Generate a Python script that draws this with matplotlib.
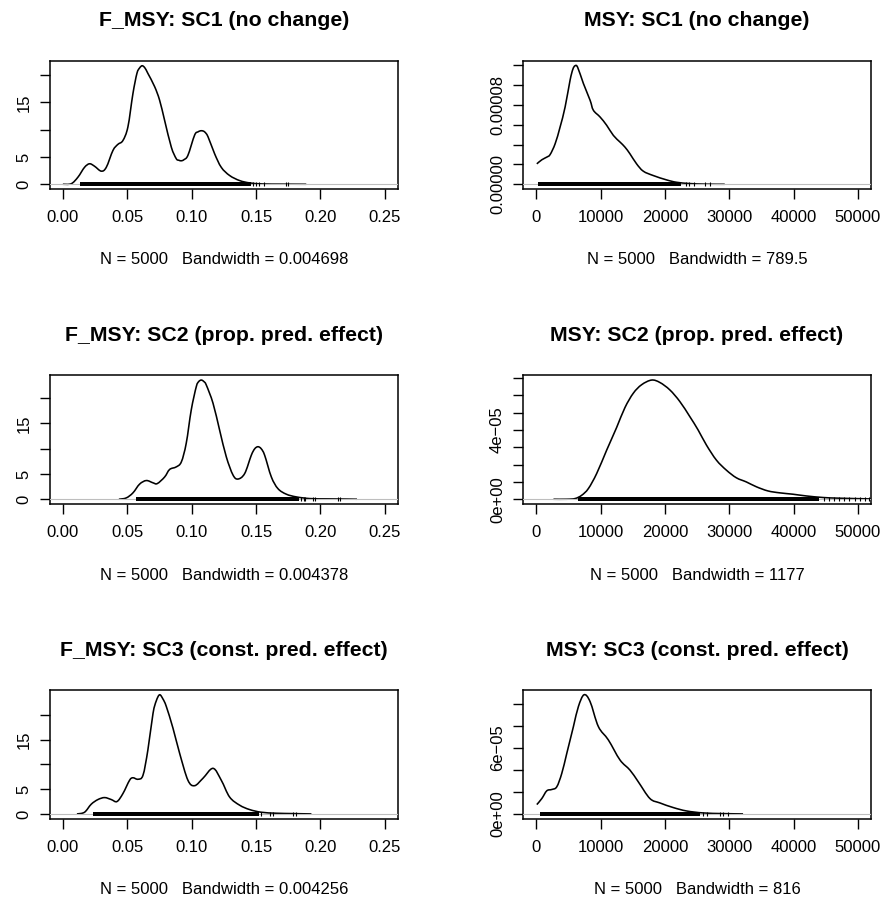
import matplotlib
matplotlib.use("Agg")
import matplotlib.pyplot as plt
from matplotlib.path import Path
from matplotlib.patches import PathPatch

plt.rcParams['font.family'] = ['Liberation Sans', 'DejaVu Sans']

# ---- kernel density estimates (x grid, density) ----
fmsy_sc1_x = [0.0, 0.0065, 0.0117, 0.0168, 0.0207, 0.0246, 0.0298, 0.0337, 0.0389, 0.0427,
              0.0466, 0.0505, 0.0544, 0.0575, 0.0596, 0.0616, 0.0637, 0.066, 0.0712, 0.0751,
              0.079, 0.0842, 0.088, 0.090, 0.092, 0.094, 0.0971, 0.1023, 0.105, 0.1075, 0.110,
              0.1127, 0.1178, 0.123, 0.1295, 0.1373, 0.145, 0.155, 0.171, 0.189]
fmsy_sc1_d = [0.0, 0.1, 1.3, 3.1, 3.75, 3.3, 2.4, 3.1, 6.2, 7.3,
              8.0, 10.5, 16.6, 20.3, 21.3, 21.7, 21.3, 20.3, 17.9, 15.4,
              11.7, 6.8, 4.7, 4.4, 4.3, 4.5, 5.3, 9.0, 9.6, 9.8, 9.6,
              8.7, 5.6, 3.1, 1.6, 0.67, 0.25, 0.06, 0.02, 0.0]

msy_sc1_x = [100, 880, 1650, 2170, 2950, 3720, 4500, 5270, 5700, 6050, 6450, 7340, 8380,
             8890, 9930, 10960, 12000, 13030, 13800, 14580, 15610, 16650, 18200, 20270,
             21820, 23900, 26470, 29310]
msy_sc1_d = [2.06e-5, 2.47e-5, 2.74e-5, 3.0e-5, 4.09e-5, 5.78e-5, 7.8e-5, 10.5e-5, 11.6e-5,
             11.96e-5, 11.8e-5, 10.17e-5, 8.48e-5, 7.47e-5, 6.79e-5, 5.95e-5, 4.93e-5,
             4.26e-5, 3.75e-5, 3.07e-5, 2.06e-5, 1.32e-5, 0.88e-5, 0.44e-5, 0.2e-5,
             0.07e-5, 0.01e-5, 0.0]

fmsy_sc2_x = [0.0435, 0.0492, 0.0544, 0.0596, 0.0648, 0.070, 0.0733, 0.079, 0.0829, 0.088,
              0.092, 0.0958, 0.0997, 0.1036, 0.1055, 0.1075, 0.1095, 0.1114, 0.1166, 0.1217,
              0.1269, 0.1321, 0.136, 0.1412, 0.1463, 0.149, 0.1515, 0.154, 0.1567, 0.1619,
              0.167, 0.1735, 0.1813, 0.1917, 0.2046, 0.215, 0.2284]
fmsy_sc2_d = [0.0, 0.26, 1.26, 3.0, 3.7, 3.25, 3.1, 4.4, 5.9, 6.4,
              7.4, 11.1, 17.7, 22.3, 23.3, 23.6, 23.3, 22.6, 19.0, 13.7,
              8.4, 4.8, 4.0, 5.1, 8.7, 10.0, 10.4, 10.0, 8.7, 4.4,
              2.1, 1.0, 0.46, 0.13, 0.07, 0.05, 0.0]

msy_sc2_x = [2690, 4760, 6050, 7080, 8120, 9410, 10960, 12510, 13800, 15100, 16390, 17940,
             19230, 20780, 22330, 23880, 25180, 26470, 28020, 29570, 31120, 32670, 34230,
             36030, 37840, 39910, 41980, 44570, 47150, 51800, 53000]
msy_sc2_d = [0.0, 0.0, 0.04e-5, 0.23e-5, 0.62e-5, 1.49e-5, 2.84e-5, 4.15e-5, 5.3e-5, 6.13e-5,
             6.62e-5, 6.89e-5, 6.75e-5, 6.32e-5, 5.65e-5, 4.78e-5, 4.0e-5, 3.13e-5, 2.26e-5,
             1.68e-5, 1.24e-5, 1.0e-5, 0.72e-5, 0.48e-5, 0.37e-5, 0.29e-5, 0.19e-5, 0.1e-5,
             0.06e-5, 0.02e-5, 0.01e-5]

fmsy_sc3_x = [0.0109, 0.0168, 0.022, 0.0272, 0.0324, 0.0376, 0.042, 0.0466, 0.0518, 0.0544,
              0.0583, 0.0622, 0.066, 0.070, 0.0725, 0.0751, 0.0777, 0.0803, 0.0855, 0.0907,
              0.0971, 0.1023, 0.1088, 0.1166, 0.123, 0.1295, 0.1373, 0.145, 0.1541, 0.1658,
              0.1787, 0.193]
fmsy_sc3_d = [0.0, 0.34, 1.96, 2.9, 3.3, 2.9, 2.5, 4.1, 6.8, 7.3,
              7.0, 7.8, 12.9, 20.3, 22.8, 24.05, 23.2, 21.7, 17.3, 12.2,
              6.8, 5.7, 7.2, 9.2, 6.8, 3.4, 1.76, 0.88, 0.34, 0.14,
              0.07, 0.0]

msy_sc3_x = [100, 880, 1650, 2430, 3200, 3980, 4760, 5790, 6570, 7440, 8380, 9670, 11220,
             13030, 14580, 15870, 17680, 19230, 21300, 23370, 25950, 29060, 32160]
msy_sc3_d = [0.85e-5, 1.4e-5, 2.1e-5, 2.22e-5, 2.46e-5, 3.68e-5, 5.5e-5, 7.93e-5, 9.76e-5,
             10.82e-5, 10.2e-5, 7.93e-5, 6.72e-5, 4.9e-5, 3.98e-5, 2.92e-5, 1.4e-5, 1.0e-5,
             0.58e-5, 0.27e-5, 0.09e-5, 0.03e-5, 0.0]

# ---- rug: dense span of the sample plus isolated upper values ----
fmsy_sc1_rug_span = (0.013, 0.146)
fmsy_sc1_rug_tail = [0.148, 0.150, 0.152, 0.156, 0.173, 0.175]
msy_sc1_rug_span = (310, 22500)
msy_sc1_rug_tail = [23300, 23800, 24600, 26200, 27000]
fmsy_sc2_rug_span = (0.0565, 0.183)
fmsy_sc2_rug_tail = [0.185, 0.187, 0.188, 0.194, 0.196, 0.2135, 0.215]
msy_sc2_rug_span = (6500, 44000)
msy_sc2_rug_tail = [44800, 45500, 46300, 47000, 47800, 48600, 49500, 50300, 51100, 51800]
fmsy_sc3_rug_span = (0.0233, 0.152)
fmsy_sc3_rug_tail = [0.154, 0.161, 0.163, 0.179, 0.181]
msy_sc3_rug_span = (570, 25500)
msy_sc3_rug_tail = [26000, 26500, 28600, 29000, 29800]

# ---- labels ----
titles = ["F_MSY: SC1 (no change)", "MSY: SC1 (no change)",
          "F_MSY: SC2 (prop. pred. effect)", "MSY: SC2 (prop. pred. effect)",
          "F_MSY: SC3 (const. pred. effect)", "MSY: SC3 (const. pred. effect)"]
sample_n = [5000, 5000, 5000, 5000, 5000, 5000]
bandwidths = ["0.004698", "789.5", "0.004378", "1177", "0.004256", "816"]

fmsy_xticks = [0.0, 0.05, 0.10, 0.15, 0.20, 0.25]
fmsy_xlabels = ["0.00", "0.05", "0.10", "0.15", "0.20", "0.25"]
msy_xticks = [0, 10000, 20000, 30000, 40000, 50000]
msy_xlabels = ["0", "10000", "20000", "30000", "40000", "50000"]

fmsy_yticks = [0, 5, 10, 15, 20]
fmsy_ylabels = ["0", "5", "", "15", ""]
msy_sc1_yticks = [0, 2e-5, 4e-5, 6e-5, 8e-5, 10e-5, 12e-5]
msy_sc1_ylabels = ["0.00000", "", "", "", "0.00008", "", ""]
msy_sc2_yticks = [0, 1e-5, 2e-5, 3e-5, 4e-5, 5e-5, 6e-5, 7e-5]
msy_sc2_ylabels = ["0e+00", "", "", "", "4e\u221205", "", "", ""]
msy_sc3_yticks = [0, 2e-5, 4e-5, 6e-5, 8e-5, 10e-5]
msy_sc3_ylabels = ["0e+00", "", "", "6e\u221205", "", ""]

panels = [
    (fmsy_sc1_x, fmsy_sc1_d, fmsy_sc1_rug_span, fmsy_sc1_rug_tail, fmsy_yticks, fmsy_ylabels),
    (msy_sc1_x, msy_sc1_d, msy_sc1_rug_span, msy_sc1_rug_tail, msy_sc1_yticks, msy_sc1_ylabels),
    (fmsy_sc2_x, fmsy_sc2_d, fmsy_sc2_rug_span, fmsy_sc2_rug_tail, fmsy_yticks, fmsy_ylabels),
    (msy_sc2_x, msy_sc2_d, msy_sc2_rug_span, msy_sc2_rug_tail, msy_sc2_yticks, msy_sc2_ylabels),
    (fmsy_sc3_x, fmsy_sc3_d, fmsy_sc3_rug_span, fmsy_sc3_rug_tail, fmsy_yticks, fmsy_ylabels),
    (msy_sc3_x, msy_sc3_d, msy_sc3_rug_span, msy_sc3_rug_tail, msy_sc3_yticks, msy_sc3_ylabels),
]


def smooth_path(xs, ys):
    """Cubic Bezier path passing through every (x, y) pair (Catmull-Rom tangents)."""
    pts = list(zip(xs, ys))
    n = len(pts)
    verts = [pts[0]]
    codes = [Path.MOVETO]
    for k in range(n - 1):
        p0 = pts[k - 1] if k > 0 else pts[k]
        p1, p2 = pts[k], pts[k + 1]
        p3 = pts[k + 2] if k + 2 < n else pts[k + 1]
        c1 = (p1[0] + (p2[0] - p0[0]) / 6.0, p1[1] + (p2[1] - p0[1]) / 6.0)
        c2 = (p2[0] - (p3[0] - p1[0]) / 6.0, p2[1] - (p3[1] - p1[1]) / 6.0)
        verts += [c1, c2, p2]
        codes += [Path.CURVE4] * 3
    return Path(verts, codes)


W, H, DPI = 885, 905, 100
fig = plt.figure(figsize=(W / DPI, H / DPI), dpi=DPI)
PX = 72.0 / DPI  # points per pixel

col_left = [50, 523.3]
col_width = [347.7, 347.4]
row_top = [61, 375.3, 690]
row_height = [128, 128.7, 128.7]

for i, (xs, ds, span, tail, yt, yl) in enumerate(panels):
    r, c = divmod(i, 2)
    ax = fig.add_axes([col_left[c] / W, 1 - (row_top[r] + row_height[r]) / H,
                       col_width[c] / W, row_height[r] / H])
    is_fmsy = (c == 0)
    ymax = max(ds)
    ax.set_ylim(-0.04 * ymax, 1.04 * ymax)
    if is_fmsy:
        ax.set_xlim(-0.01, 0.26)
        ax.set_xticks(fmsy_xticks)
        ax.set_xticklabels(fmsy_xlabels)
    else:
        ax.set_xlim(-2000, 52000)
        ax.set_xticks(msy_xticks)
        ax.set_xticklabels(msy_xlabels)
    ax.set_yticks(yt)
    ax.set_yticklabels(yl, rotation=90, va='center')

    ax.add_patch(PathPatch(smooth_path(xs, ds), facecolor='none', edgecolor='black',
                           lw=1.15, zorder=2, joinstyle='round'))
    ax.axhline(0, color='#BEBEBE', lw=0.8, zorder=3)
    ax.plot(list(span), [0, 0], color='black', lw=4 * PX, zorder=4,
            solid_capstyle='butt')
    ax.plot(tail, [0] * len(tail), ls='none', marker='|', color='black',
            markersize=4 * PX, markeredgewidth=0.8, zorder=4)

    for s in ax.spines.values():
        s.set_linewidth(1.1)
    ax.tick_params(axis='both', length=10 * PX, width=1.0, labelsize=12,
                   direction='out', color='black')
    ax.tick_params(axis='x', pad=8)
    ax.tick_params(axis='y', pad=6)

    ax.annotate(titles[i], xy=(0.5, 1), xycoords='axes fraction',
                xytext=(0, 40 * PX), textcoords='offset points',
                ha='center', va='center', fontsize=15.3, fontweight='bold')
    ax.annotate(f"N = {sample_n[i]}   Bandwidth = {bandwidths[i]}",
                xy=(0.5, 0), xycoords='axes fraction',
                xytext=(0, -71 * PX), textcoords='offset points',
                ha='center', va='center', fontsize=12)

fig.savefig("out.png", dpi=DPI, facecolor='white')
